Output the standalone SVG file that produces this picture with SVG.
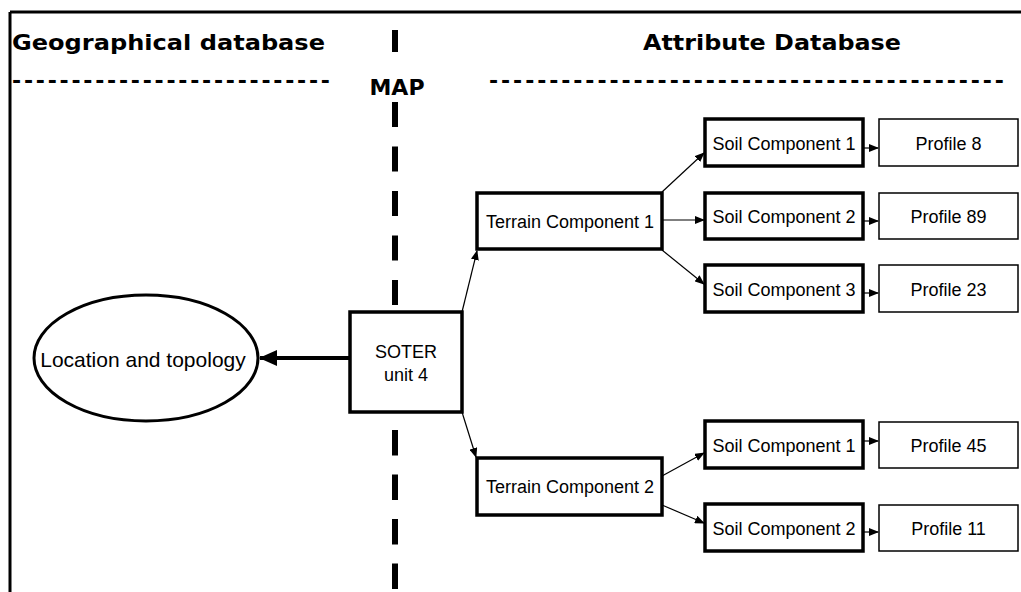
<svg xmlns="http://www.w3.org/2000/svg" width="1021" height="592" viewBox="0 0 1021 592">
  <style>
    .head { font-family: "DejaVu Sans", Verdana, sans-serif; font-weight: bold; font-size: 22px; fill: #000; }
    .lbl { font-family: "Liberation Sans", Arial, sans-serif; font-size: 18px; fill: #000; text-anchor: middle; }
    .thick { fill: #fff; stroke: #000; stroke-width: 3.5; }
    .thin { fill: #fff; stroke: #000; stroke-width: 1.5; }
    .conn { fill: none; stroke: #000; stroke-width: 1.2; }
  </style>
  <defs>
    <marker id="arrow" markerUnits="userSpaceOnUse" markerWidth="10" markerHeight="8" refX="9" refY="4" orient="auto">
      <path d="M0,0 L10,4 L0,8 Z" fill="#000"/>
    </marker>
    <marker id="bigArrow" markerUnits="userSpaceOnUse" markerWidth="18" markerHeight="16" refX="17" refY="8" orient="auto">
      <path d="M0,0 L18,8 L0,16 Z" fill="#000"/>
    </marker>
  </defs>

  <rect width="1021" height="592" fill="#fff"/>

  <!-- frame: top and left edges -->
  <g id="frame" stroke="#000" stroke-width="3" fill="none">
    <line x1="10" y1="12" x2="1021" y2="12"/>
    <line x1="10" y1="12" x2="10" y2="592"/>
  </g>

  <!-- section headings -->
  <g id="headings">
    <text class="head" x="12" y="50" textLength="313" lengthAdjust="spacingAndGlyphs">Geographical database</text>
    <text class="head" x="12" y="88" textLength="318" lengthAdjust="spacing">---------------------------</text>
    <text class="head" x="397" y="95" text-anchor="middle">MAP</text>
    <text class="head" x="643" y="50" textLength="258" lengthAdjust="spacingAndGlyphs">Attribute Database</text>
    <text class="head" x="489" y="88" textLength="515" lengthAdjust="spacing">-------------------------------------------</text>
  </g>

  <!-- vertical divider -->
  <g id="divider" stroke="#000" stroke-width="6" fill="none">
    <line x1="395" y1="30" x2="395" y2="52"/>
    <line x1="395" y1="102" x2="395" y2="312" stroke-dasharray="25 19.5"/>
    <line x1="395" y1="430" x2="395" y2="592" stroke-dasharray="25.5 19"/>
  </g>

  <!-- connectors -->
  <g id="connectors">
    <line x1="350" y1="358" x2="260" y2="358" stroke="#000" stroke-width="4" marker-end="url(#bigArrow)"/>
    <line class="conn" x1="462" y1="312" x2="477" y2="251" marker-end="url(#arrow)"/>
    <line class="conn" x1="462" y1="412" x2="476" y2="457" marker-end="url(#arrow)"/>
    <line class="conn" x1="662" y1="192" x2="704" y2="153" marker-end="url(#arrow)"/>
    <line class="conn" x1="662" y1="220" x2="704" y2="220" marker-end="url(#arrow)"/>
    <line class="conn" x1="662" y1="250" x2="704" y2="284" marker-end="url(#arrow)"/>
    <line class="conn" x1="662" y1="476" x2="704" y2="453" marker-end="url(#arrow)"/>
    <line class="conn" x1="662" y1="505" x2="704" y2="523" marker-end="url(#arrow)"/>
    <line class="conn" x1="863" y1="148" x2="878" y2="148" marker-end="url(#arrow)"/>
    <line class="conn" x1="863" y1="221" x2="878" y2="221" marker-end="url(#arrow)"/>
    <line class="conn" x1="863" y1="293" x2="878" y2="293" marker-end="url(#arrow)"/>
    <line class="conn" x1="863" y1="441" x2="878" y2="441" marker-end="url(#arrow)"/>
    <line class="conn" x1="863" y1="532" x2="878" y2="532" marker-end="url(#arrow)"/>
  </g>

  <!-- nodes -->
  <g id="location">
    <ellipse cx="146" cy="358" rx="112" ry="63" fill="#fff" stroke="#000" stroke-width="3"/>
    <text class="lbl" x="143" y="367" style="font-size:21px">Location and topology</text>
  </g>
  <g id="soter">
    <rect class="thick" x="350" y="312" width="112" height="100"/>
    <text class="lbl" x="406" y="358">SOTER</text>
    <text class="lbl" x="406" y="381">unit 4</text>
  </g>
  <g id="terrain1">
    <rect class="thick" x="477" y="193" width="185" height="56"/>
    <text class="lbl" x="570" y="228">Terrain Component 1</text>
  </g>
  <g id="terrain2">
    <rect class="thick" x="477" y="458" width="185" height="57"/>
    <text class="lbl" x="570" y="493">Terrain Component 2</text>
  </g>
  <g id="soil1a">
    <rect class="thick" x="705" y="119" width="158" height="47"/>
    <text class="lbl" x="784" y="150">Soil Component 1</text>
  </g>
  <g id="soil2a">
    <rect class="thick" x="705" y="193" width="158" height="46"/>
    <text class="lbl" x="784" y="223">Soil Component 2</text>
  </g>
  <g id="soil3a">
    <rect class="thick" x="705" y="265" width="158" height="47"/>
    <text class="lbl" x="784" y="296">Soil Component 3</text>
  </g>
  <g id="soil1b">
    <rect class="thick" x="705" y="421" width="158" height="47"/>
    <text class="lbl" x="784" y="452">Soil Component 1</text>
  </g>
  <g id="soil2b">
    <rect class="thick" x="705" y="504" width="158" height="47"/>
    <text class="lbl" x="784" y="535">Soil Component 2</text>
  </g>
  <g id="profile8">
    <rect class="thin" x="879" y="119" width="139" height="47"/>
    <text class="lbl" x="948.5" y="150">Profile 8</text>
  </g>
  <g id="profile89">
    <rect class="thin" x="879" y="193" width="139" height="46"/>
    <text class="lbl" x="948.5" y="223">Profile 89</text>
  </g>
  <g id="profile23">
    <rect class="thin" x="879" y="265" width="139" height="47"/>
    <text class="lbl" x="948.5" y="296">Profile 23</text>
  </g>
  <g id="profile45">
    <rect class="thin" x="879" y="422" width="139" height="46"/>
    <text class="lbl" x="948.5" y="452">Profile 45</text>
  </g>
  <g id="profile11">
    <rect class="thin" x="879" y="505" width="139" height="46"/>
    <text class="lbl" x="948.5" y="535">Profile 11</text>
  </g>
</svg>
